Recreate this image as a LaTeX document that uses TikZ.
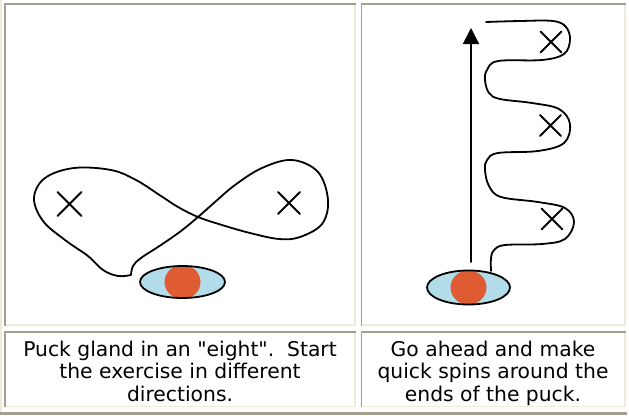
\documentclass[tikz,border=0pt]{standalone}
\usepackage{fontspec}
\setmainfont{DejaVu Sans}
\newfontfamily\capfont{DejaVu Sans}
\usetikzlibrary{arrows.meta,shapes.geometric,shapes.misc}
\definecolor{bgrey}{HTML}{A29E90}
\definecolor{bcream}{HTML}{EFEBD8}
\definecolor{puckblue}{HTML}{B2DDE8}
\definecolor{puckred}{HTML}{DE5B33}
\newcommand\tablecell[4]{%
  \fill[bgrey] (#1,#2) rectangle (#3,#2+1.8);
  \fill[bgrey] (#1,#2) rectangle (#1+1.8,#4);
  \fill[bcream] (#3-1.8,#2+1.8) rectangle (#3,#4);
  \fill[bcream] (#1+1.8,#4-1.8) rectangle (#3,#4);
}
\tikzset{
  stroke/.style={line width=1.8pt, line cap=round, line join=round, black},
  xmark/.style={cross out, draw=black, line width=1.8pt, line cap=round, inner sep=0pt, minimum size=#1},
  xmark/.default=20pt,
  caption/.style={anchor=base, inner sep=0pt, font=\capfont\fontsize{20.3}{22.5}\selectfont},
  puck/.style={ellipse, draw=black, line width=1.8pt, fill=puckblue, inner sep=0pt,
    minimum width=84pt, minimum height=32pt,
    path picture={\fill[puckred] (path picture bounding box.center) ellipse [x radius=18pt, y radius=17pt];}},
}
\begin{document}
\begin{tikzpicture}[x=1pt,y=-1pt]
\useasboundingbox (0,0) rectangle (629,415);
\fill[white] (0,0) rectangle (629,415);
% outer table border
\fill[bcream] (0,0) rectangle (1.6,412);
\fill[bgrey] (0,412) rectangle (627,415);
% cells
\tablecell{4}{3}{356}{325.5}
\tablecell{360.5}{3}{626}{325.5}
\tablecell{4}{331}{356}{407.3}
\tablecell{360.5}{331}{626}{407.3}

% ---- left drawing: figure eight
\draw[stroke] plot[smooth, tension=0.6] coordinates {(131,275) (133,266) (141,258) (161,245) (181,231) (198,217) (215,202) (235,185) (262,168) (292,160) (318,172) (328,200) (322,224) (300,237) (279,239) (250,233) (222,225) (198,217) (178,207) (161,196) (136,180) (111,170) (74,168) (45,178) (34,198) (43,221) (65,240) (88,256) (103,270) (118,276) (131,275)};
\node[xmark=22pt] (xL) at (69.5,204) {};
\node[xmark=20pt] (xR) at (289,203) {};
\node[puck, minimum width=85pt, minimum height=32pt] (puckL) at (182.5,282) {};

% ---- right drawing: spins
\node[puck, minimum width=83pt, minimum height=34pt] (puckR) at (468.5,287.5) {};
\coordinate (arrowS) at (471,262);
\coordinate (arrowE) at (471,28);
\draw[stroke, -{Triangle[width=16pt,length=16pt]}] (arrowS) -- (arrowE);
\draw[stroke] plot[smooth, tension=0.6] coordinates {(486,22) (520,21) (553,21) (566,27) (570,40) (564,54) (542,60) (498,61) (487,70) (485,80) (489,93) (500,99) (532,103) (559,109) (570,124) (564,143) (538,151) (498,153) (487,160) (485,170) (489,186) (501,197) (538,202) (565,208) (574,222) (565,239) (542,244) (505,245) (494,250) (491,258) (491,271)};
\node[xmark=19pt] (x1) at (551,42) {};
\node[xmark=19pt] (x2) at (550.5,125.5) {};
\node[xmark=19pt] (x3) at (552,219) {};

% ---- captions
\node[caption] (capL1) at (180,356) {Puck gland in an "eight".\ \ Start};
\node[caption] (capL2) at (180,378.5) {the exercise in different};
\node[caption] (capL3) at (180,401) {directions.};
\node[caption] (capR1) at (493,356) {Go ahead and make};
\node[caption] (capR2) at (493,378.5) {quick spins around the};
\node[caption] (capR3) at (493,401) {ends of the puck.};
\end{tikzpicture}
\end{document}
